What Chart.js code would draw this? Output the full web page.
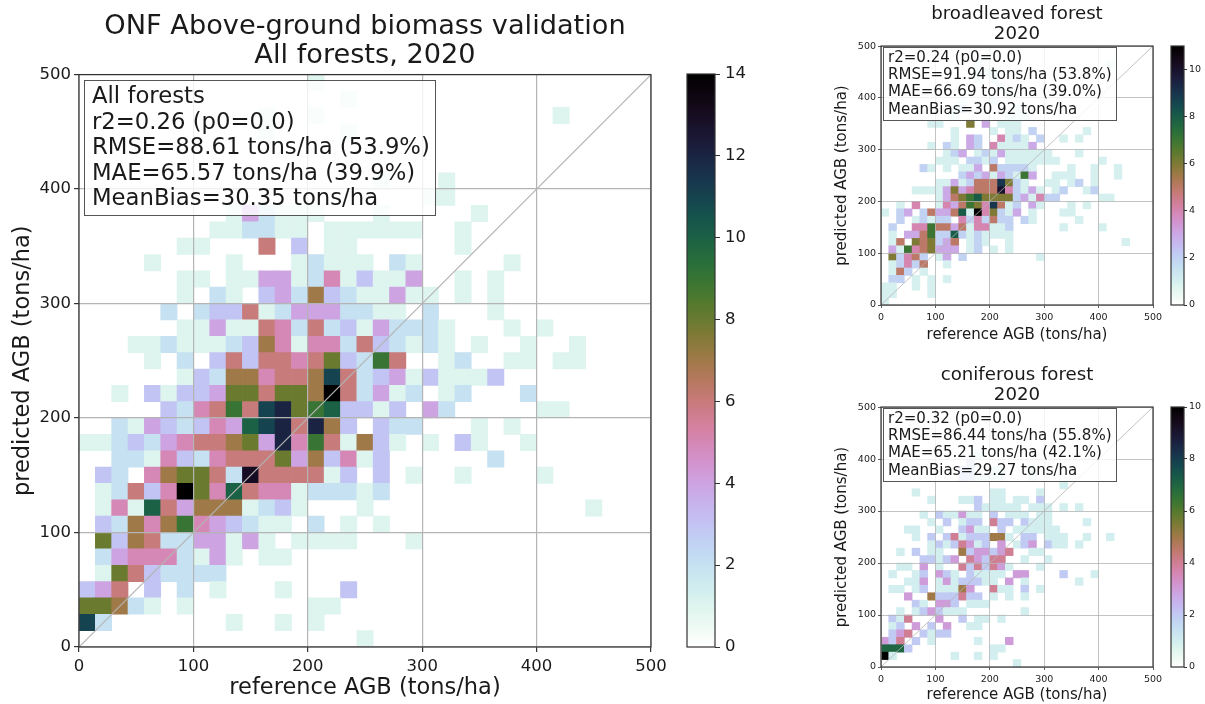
<!DOCTYPE html>
<html>
<head>
<meta charset="utf-8">
<title>ONF AGB validation</title>
<script src="https://cdn.jsdelivr.net/npm/chart.js@4/dist/chart.umd.js"></script>
<style>
  html, body { margin: 0; padding: 0; background: #fff; }
  body { width: 1205px; height: 704px; position: relative; overflow: hidden; font-family: "DejaVu Sans", sans-serif; color: #1a1a1a; }
  canvas { position: absolute; }
  .stats { position: absolute; box-sizing: border-box; background: rgba(255,255,255,.8); border: 1.5px solid #555; white-space: pre; }
</style>
</head>
<body>
<canvas id="allChart" width="730" height="704" style="left:0;top:0"></canvas>
<canvas id="allBar" width="100" height="704" style="left:680px;top:0"></canvas>
<canvas id="broadChart" width="374" height="344" style="left:830px;top:0"></canvas>
<canvas id="broadBar" width="45" height="344" style="left:1160px;top:0"></canvas>
<canvas id="conifChart" width="374" height="342" style="left:830px;top:362px"></canvas>
<canvas id="conifBar" width="45" height="342" style="left:1160px;top:362px"></canvas>
<div class="stats" style="left:84px;top:80px;width:352px;height:136px;padding:2px 7px;font-size:22.74px;line-height:25.5px">All forests
r2=0.26 (p0=0.0)
RMSE=88.61 tons/ha (53.9%)
MAE=65.57 tons/ha (39.9%)
MeanBias=30.35 tons/ha</div>
<div class="stats" style="left:883px;top:47px;width:234px;height:74px;padding:1px 4px;font-size:15.05px;line-height:17.2px">r2=0.24 (p0=0.0)
RMSE=91.94 tons/ha (53.8%)
MAE=66.69 tons/ha (39.0%)
MeanBias=30.92 tons/ha</div>
<div class="stats" style="left:883px;top:408px;width:234px;height:74px;padding:1px 4px;font-size:15.05px;line-height:17.2px">r2=0.32 (p0=0.0)
RMSE=86.44 tons/ha (55.8%)
MAE=65.21 tons/ha (42.1%)
MeanBias=29.27 tons/ha</div>
<script>
const binCount = 35;
const axisMax = 500;

// counts per 2d bin, top row first, one char per bin (. = 0, a-e = 10-14)
const allForestRows = [
  "..... ..... ....1 ..... ..... ..... .....",
  "..... ..... ..... .1... ..... ..... .....",
  "..... ..... .1..1 ..... ..... ....1 .....",
  "..... ..... .1... .1... ..... ..... .....",
  "..... ..... ..... ..... ..... ..... .....",
  "..... ..... ..... ..... ..... ..... .....",
  "..... ..... ..... ...1. ..1.. ..... .....",
  "..... ..... ..... ..... .11.. ..... .....",
  "..... ....1 42111 ...1. ....1 ..... .....",
  "..... ...11 2211. 11111 1..1. ..... .....",
  "..... .11.. .6.3. 11... ...1. ..... .....",
  "....1 ....1 ...12 111.2 1.... .1... .....",
  "..... .11.1 14412 51311 4..1. 1.... .....",
  "..... .1.21 .3427 32114 11.1. 1.... .....",
  "..... 2.233 61244 42211 .2... 1.... .....",
  "..... .1141 16526 23142 221.. .1.1. .....",
  "...11 21112 37515 52632 121.1 ..1.. 1....",
  "....1 .2.36 36656 83296 ..12. .11.1 1....",
  "..... .1327 75667 b6234 13111 3.... .....",
  "..1.3 13348 86887 e6241 2.12. ..2.. .....",
  "..... 32569 6bc89 a3313 .42.. ...11 .....",
  "..214 32354 abc6c 73.32 2...1 .1... .....",
  "11232 45667 84c59 61731 .1.31 ..1.. .....",
  "..221 53256 66847 3513. ..... 2.... .....",
  ".32.5 78862 d6666 13.3. 1..1. ...1. .....",
  ".1263 5e85a 65512 2212. ..... ..... .....",
  ".151a 64777 1231. ..1.. ..... ..... .1...",
  ".3275 79543 211.2 .1.1. ..... ..... .....",
  ".8376 22441 41.11 11... 1.... ..... .....",
  ".2455 52141 .11.. ..... ..... ..... .....",
  ".1863 2222. ..... ..... ..... ..... .....",
  "346.3 .2.1. ..1.. .3... ..... ..... .....",
  "88721 .1... ....1 1.... ..... ..... .....",
  "b2... ....1 ..1.1 ..... ..... ..... .....",
  "..... ..... ..... ..1.. ..... ..... ....."
];

const broadleavedRows = [
  "..... ..... ..... ..... ..... ..... .....",
  "..... ..... ...1. ..... ..... ..... .....",
  "..... ..... ..1.. ..... ..... ....1 .....",
  "..... ..... ..111 ..... ..... ..... .....",
  "..... ..... ..1.1 ..... ..... ..... .....",
  "..... ..... ..... 1.... ..... ..... .....",
  "..... ..... ..... .1... ..... ..... .....",
  "..... ..... 1...1 ..... ..... ..... .....",
  "..... ....1 2.... ..1.. ..... ..... .....",
  "..... ....1 ..... .111. ..... ..... .....",
  "..... .11.. .6.3. 111.. ..... ..... .....",
  "..... ....1 ....1 .11.2 ..... .1... .....",
  "..... ....1 .32.. 4121. 2..1. 1.... .....",
  "..... .1.21 .32.4 11113 ..... ..... .....",
  "..... ...12 3.121 31111 11... 1.... .....",
  "..... ..111 .2212 .1111 111.. ...1. .....",
  "..... 21.1. 113.5 22221 ....1 ..1.. 1....",
  "..... ..... 23231 32173 ..111 ..1.. 1....",
  "..... ..113 12555 9621. .11.1 2.1.. .....",
  "....1 11136 34555 a4213 1.12. .12.. .....",
  "..... ..135 67866 66231 422.. ...11 .....",
  "..1.4 ..143 57649 512.3 1...1 .1... .....",
  "1.23. 25335 81b46 213.1 ...11 ..... .....",
  "..2.1 2122. 42425 22.21 ..... 1.... .....",
  ".2..4 47553 51441 12... ...1. ...1. .....",
  ".1.33 57228 21211 11... ..... ..... .....",
  ".15.6 56235 .121. .1... ..... ..... .1...",
  ".3174 56333 .12.1 .1... ..... ..... .....",
  ".6245 2.13. 2.... ..... 1.... ..... .....",
  ".1242 5..1. ..... ..... ..... ..... .....",
  ".152. 1.... ..... ..... ..... ..... .....",
  ".22.1 .1.1. ..... ..... ..... ..... .....",
  "11..1 .1... ..... ..... ..... ..... .....",
  "11... .1... ..... ..... ..... ..... .....",
  "1.... ..... ..... ..... ..... ..... ....."
];

const coniferousRows = [
  "..... ..... ..... ..... ..... ..... .....",
  "..... ..... ..... ..... ..... ..... .....",
  "..... ..... ..... ..... ..... ..... .....",
  "..... ..... ..... ..... ..... ..... .....",
  "..... ..... ..... ..... ..... ..... .....",
  "..... ..... ..... ..... ..... ..... .....",
  "..... ..... ..1.. ..... ..... ..... .....",
  "..... ..... .2... ..... ..... ..... .....",
  "..... ..... 22..1 1...1 ..... ..... .....",
  "..... ..... 22111 1...1 ..... ..... .....",
  "..... ..... ..... ..... ...1. ..... .....",
  "....1 ..... ....1 1.... 1.... ..... .....",
  "..... .1... 112.1 1.11. 2.... ..... .....",
  "..... ..... ..211 111.1 11.1. 1.... .....",
  "..... 1.211 311.2 .111. 11... ..... .....",
  "..... .1.2. 122.4 22.21 11... .1... .....",
  "...11 ..1.. 2311. 2.111 111.. ..... .....",
  "....1 .2.24 12225 51.22 .111. .1..1 .....",
  "..... .1212 4312. 3.123 .211. 1.... .....",
  "..1.2 .11.. 52332 34..1 1.... ..... .....",
  "..... 22123 .4324 4..1. .1... ..... .....",
  "..11. 3.1.. 42424 31... 1.... ..... .....",
  ".1..1 2.321 .2111 1.33. ...2. ..1.. .....",
  "...11 3.131 22211 .3.1. ..... 1.... .....",
  ".11.1 2.111 53..4 11.2. 1.... ..... .....",
  "...3. .5222 422.1 .1.1. ..... ..... .....",
  "....2 1.332 .111. ..... ..... ..... .....",
  "..1.1 23211 1.... ...1. ..... ..... .....",
  ".214. ..3.. 2.11. 1.... ..... ..... .....",
  ".12.3 .2.3. .11.. ..... ..... ..... .....",
  ".234. 2122. ..... ..... ..... ..... .....",
  "324.2 .1... ..1.. .3... ..... ..... .....",
  "7772. ..... ....1 1.... ..... ..... .....",
  "a1... ....1 ..1.1 ..... ..... ..... .....",
  "..... ..... ..... ..1.. ..... ..... ....."
];

const allTitle = ["ONF Above-ground biomass validation", "All forests, 2020"];
const broadTitle = ["broadleaved forest", "2020"];
const conifTitle = ["coniferous forest", "2020"];
const xLabel = "reference AGB (tons/ha)";
const yLabel = "predicted AGB (tons/ha)";

const inkColor = "#1a1a1a";
const gridColor = "#b4b4b4";

// matplotlib cubehelix_r
function cubehelix(v) {
  const lam = 1 - Math.max(0, Math.min(1, v));
  const a = lam * (1 - lam) / 2;
  const phi = 2 * Math.PI * (0.5 / 3 - 1.5 * lam);
  const c = Math.cos(phi), s = Math.sin(phi);
  const r = lam + a * (-0.14861 * c + 1.78277 * s);
  const g = lam + a * (-0.29227 * c - 0.90649 * s);
  const b = lam + a * (1.97294 * c);
  const to255 = x => Math.round(Math.max(0, Math.min(1, x)) * 255);
  return `rgb(${to255(r)},${to255(g)},${to255(b)})`;
}

function toCells(rows) {
  const step = axisMax / binCount;
  const cells = [];
  rows.forEach((row, k) => {
    const chars = row.replace(/ /g, "");
    const yLow = axisMax - (k + 1) * step;
    for (let i = 0; i < chars.length; i++) {
      if (chars[i] === ".") continue;
      cells.push({ x: (i + 0.5) * step, y: [yLow, yLow + step], count: parseInt(chars[i], 16) });
    }
  });
  return cells;
}

const framePlugin = {
  id: "frame",
  afterDraw(chart) {
    const a = chart.chartArea, ctx = chart.ctx;
    ctx.save();
    ctx.strokeStyle = "#333";
    ctx.lineWidth = 1.2;
    ctx.strokeRect(a.left, a.top, a.right - a.left, a.bottom - a.top);
    ctx.restore();
  }
};

function heatmap(id, rows, vmax, title, g) {
  const axis = (axisTitle, titlePad, tickPad, fit) => ({
    type: "linear",
    min: 0,
    max: axisMax,
    offset: false,
    ticks: { stepSize: 100, color: inkColor, padding: tickPad, font: { family: "DejaVu Sans", size: g.tickSize }, maxRotation: 0 },
    grid: { offset: false, color: gridColor, lineWidth: g.gridWidth, z: 1, tickColor: "#333", tickLength: g.tickLen },
    border: { display: false },
    title: { display: true, text: axisTitle, color: inkColor, font: { family: "DejaVu Sans", size: g.labelSize }, padding: titlePad },
    afterFit: fit
  });
  new Chart(document.getElementById(id), {
    type: "bar",
    data: {
      datasets: [
        {
          type: "line",
          data: [{ x: 0, y: 0 }, { x: axisMax, y: axisMax }],
          borderColor: gridColor,
          borderWidth: g.gridWidth,
          pointRadius: 0,
          order: 0
        },
        {
          data: toCells(rows),
          backgroundColor: ctx => cubehelix(ctx.raw.count / vmax),
          categoryPercentage: 1,
          barPercentage: 1,
          grouped: false,
          order: 1
        }
      ]
    },
    options: {
      responsive: false,
      animation: false,
      layout: { padding: { top: g.padTop, right: 0, left: 0, bottom: 0 } },
      plugins: {
        legend: { display: false },
        tooltip: { enabled: false },
        title: {
          display: true,
          text: title,
          color: inkColor,
          font: { family: "DejaVu Sans", size: g.titleSize, weight: "normal", lineHeight: g.titleLine },
          padding: { top: 0, bottom: g.titleGap }
        }
      },
      scales: {
        x: axis(xLabel, { top: 0, bottom: g.xTitlePad }, g.xTickPad, s => { s.height = g.xHeight; }),
        y: axis(yLabel, { top: g.yTitlePad, bottom: 0 }, g.tickPad, s => { s.width = g.yWidth; }),
        // empty axis on the right so the title centres on the plot
        yGap: {
          axis: "y",
          position: "right",
          ticks: { display: false },
          grid: { display: false },
          border: { display: false },
          afterFit: s => { s.width = g.yWidth; }
        }
      }
    },
    plugins: [framePlugin]
  });
}

function colorbar(id, vmax, g) {
  new Chart(document.getElementById(id), {
    type: "bar",
    data: {
      labels: [""],
      datasets: [{
        data: [[0, vmax]],
        categoryPercentage: 1,
        barPercentage: 1,
        backgroundColor: ctx => {
          const a = ctx.chart.chartArea;
          if (!a) return "#fff";
          const grad = ctx.chart.ctx.createLinearGradient(0, a.bottom, 0, a.top);
          for (let i = 0; i <= 64; i++) grad.addColorStop(i / 64, cubehelix(i / 64));
          return grad;
        }
      }]
    },
    options: {
      responsive: false,
      animation: false,
      layout: { padding: { top: g.top, left: g.left, right: 0, bottom: g.bottom } },
      plugins: { legend: { display: false }, tooltip: { enabled: false } },
      scales: {
        x: { display: false },
        y: {
          position: "right",
          min: 0,
          max: vmax,
          ticks: { stepSize: 2, includeBounds: false, color: inkColor, padding: g.tickPad, font: { family: "DejaVu Sans", size: g.tickSize } },
          grid: { drawOnChartArea: false, tickColor: "#333", tickLength: g.tickLen },
          border: { display: false },
          afterFit: s => { s.width = g.width; }
        }
      }
    },
    plugins: [framePlugin]
  });
}

const mainGeom = { padTop: 13, titleSize: 27.2, titleLine: 1.04, titleGap: 5, tickSize: 16.5, labelSize: 22.5,
  tickPad: 3, xTickPad: 5, tickLen: 5, gridWidth: 1.2, xHeight: 57, yWidth: 79, xTitlePad: 2, yTitlePad: 10 };
const smallGeom = { padTop: 4, titleSize: 18.2, titleLine: 1.1, titleGap: 2, tickSize: 9.5, labelSize: 15,
  tickPad: 2, xTickPad: 4, tickLen: 3, gridWidth: 0.8, xHeight: 39, yWidth: 51, xTitlePad: 0, yTitlePad: 3 };

heatmap("allChart", allForestRows, 14, allTitle, mainGeom);
heatmap("broadChart", broadleavedRows, 11, broadTitle, smallGeom);
heatmap("conifChart", coniferousRows, 10, conifTitle, { ...smallGeom, padTop: 3, xHeight: 37 });

colorbar("allBar", 14, { top: 74, bottom: 57, left: 7, width: 65, tickPad: 5, tickLen: 5, tickSize: 16.5 });
colorbar("broadBar", 11, { top: 46, bottom: 39, left: 11, width: 21, tickPad: 2, tickLen: 3, tickSize: 9.5 });
colorbar("conifBar", 10, { top: 45, bottom: 37, left: 11, width: 21, tickPad: 2, tickLen: 3, tickSize: 9.5 });
</script>
</body>
</html>
